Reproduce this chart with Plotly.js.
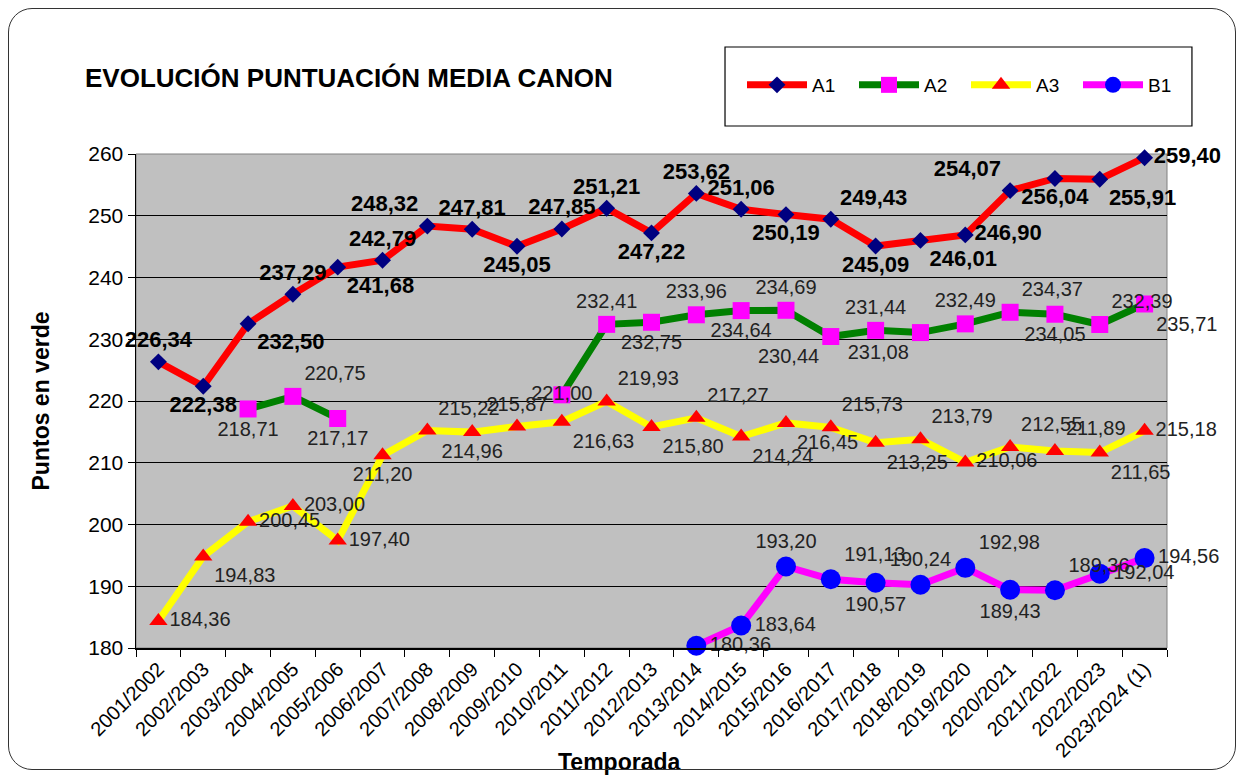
<!DOCTYPE html>
<html>
<head>
<meta charset="utf-8">
<script src="https://cdn.plot.ly/plotly-3.0.1.min.js"></script>
<style>
  html, body { margin:0; padding:0; background:#fff; }
  #chart { width:1242px; height:776px; position:relative; }
  #frame { position:absolute; left:8px; top:8px; width:1226px; height:760px;
           border:1.5px solid #333; border-radius:24px; pointer-events:none; }
</style>
</head>
<body>
<div id="chart"></div>
<div id="frame"></div>
<script>
const seasons = ["2001/2002","2002/2003","2003/2004","2004/2005","2005/2006","2006/2007","2007/2008","2008/2009","2009/2010","2010/2011","2011/2012","2012/2013","2013/2014","2014/2015","2015/2016","2016/2017","2017/2018","2018/2019","2019/2020","2020/2021","2021/2022","2022/2023","2023/2024 (1)"];

const a1 = [226.34,222.38,232.50,237.29,241.68,242.79,248.32,247.81,245.05,247.85,251.21,247.22,253.62,251.06,250.19,249.43,245.09,246.01,246.90,254.07,256.04,255.91,259.40];
const a2 = [null,null,218.71,220.75,217.17,null,null,null,null,221.00,232.41,232.75,233.96,234.64,234.69,230.44,231.44,231.08,232.49,234.37,234.05,232.39,235.71];
const a3 = [184.36,194.83,200.45,203.00,197.40,211.20,215.22,214.96,215.87,216.63,219.93,215.80,217.27,214.24,216.45,215.73,213.25,213.79,210.06,212.55,211.89,211.65,215.18];
const b1 = [null,null,null,null,null,null,null,null,null,null,null,null,180.36,183.64,193.20,191.13,190.57,190.24,192.98,189.43,189.36,192.04,194.56];

const yTicks = [180,190,200,210,220,230,240,250,260];

// label placement (style only)
const posA1 = ["top center","bottom center","bottom right","top center","bottom right","top center","top left","top center","bottom center","top center","top center","bottom center","top center","top center","bottom center","top right","bottom center","bottom right","middle right","top left","bottom center","bottom right","middle right"];
const posA2 = ["top center","top center","bottom center","top right","bottom center","top center","top center","top center","top center","middle center","top center","bottom center","top center","bottom center","top center","bottom left","top center","bottom left","top center","top right","bottom center","top right","bottom right"];
const posA3 = ["middle right","bottom right","middle right","middle right","middle right","bottom center","top right","bottom center","top center","bottom right","top right","bottom right","top right","bottom right","bottom right","top right","bottom right","top right","middle right","top right","top right","bottom right","middle right"];
const posB1 = ["top center","top center","top center","top center","top center","top center","top center","top center","top center","top center","top center","top center","middle right","middle right","top center","top right","bottom center","top center","top right","bottom center","top right","middle right","middle right"];

const fmt = v => (v === null ? "" : v.toFixed(2).replace(".", ","));

const FONT = "Liberation Sans, Arial, sans-serif";

function series(name, vals, pos, lineColor, mColor, symbol, size, bold) {
  return {
    type: "scatter", mode: "lines+markers+text", name: name,
    x: seasons, y: vals, text: vals.map(fmt), textposition: pos,
    connectgaps: false, cliponaxis: false,
    line: { color: lineColor, width: 7 },
    marker: { color: mColor, symbol: symbol, size: size, line: { width: 0 } },
    textfont: { family: FONT, size: bold ? 22 : 20, color: bold ? "#000" : "#222", weight: bold ? "bold" : "normal" },
    hoverinfo: "x+y"
  };
}

const data = [
  series("A1", a1, posA1, "#ff0000", "#000080", "diamond", 13, true),
  series("A2", a2, posA2, "#008000", "#ff00ff", "square", 17, false),
  series("A3", a3, posA3, "#ffff00", "#ff0000", "triangle-up", 16, false),
  series("B1", b1, posB1, "#ff00ff", "#0000ff", "circle", 20, false)
];

const layout = {
  width: 1242, height: 776,
  margin: { l: 136, r: 75, t: 154, b: 128, autoexpand: false },
  paper_bgcolor: "#ffffff",
  plot_bgcolor: "#c0c0c0",
  font: { family: FONT, color: "#000" },
  title: {
    text: "<b>EVOLUCIÓN PUNTUACIÓN MEDIA CANON</b>",
    x: 85/1242, xref: "container", xanchor: "left",
    y: 1 - 78/776, yref: "container", yanchor: "middle",
    font: { family: FONT, size: 26, color: "#000" }
  },
  showlegend: true,
  legend: {
    orientation: "h", xref: "container", yref: "container",
    x: 742/1242, xanchor: "left", y: 1 - 85/776, yanchor: "middle",
    bgcolor: "rgba(0,0,0,0)", borderwidth: 0,
    font: { family: FONT, size: 19, color: "#000" },
    itemwidth: 60, entrywidth: 37, entrywidthmode: "pixels",
    traceorder: "normal"
  },
  xaxis: {
    type: "category", tickangle: -45, range: [-0.5, 22.5], autorange: false,
    tickson: "boundaries", ticks: "outside", ticklen: 7, tickcolor: "#000",
    showline: true, linecolor: "#000", linewidth: 1.5,
    showgrid: false, zeroline: false,
    tickfont: { family: FONT, size: 20, color: "#000" }
  },
  yaxis: {
    range: [180, 260], tickvals: yTicks, ticktext: yTicks.map(String),
    ticks: "outside", ticklen: 7, tickcolor: "#000",
    showline: true, linecolor: "#000", linewidth: 1.5,
    showgrid: true, gridcolor: "#000", gridwidth: 1, zeroline: false,
    tickfont: { family: FONT, size: 21, color: "#000" },
    title: { text: "<b>Puntos en verde</b>", standoff: 32, font: { family: FONT, size: 23, color: "#000" } }
  },
  shapes: [
    { type: "rect", xref: "paper", yref: "paper", x0: 0, x1: 1, y0: 0, y1: 1,
      line: { color: "#808080", width: 1 }, layer: "below" },
    { type: "rect", xref: "paper", yref: "paper", x0: 0.5713, x1: 1.0242, y0: 1.0567, y1: 1.2166,
      line: { color: "#000", width: 1.2 }, fillcolor: "rgba(0,0,0,0)" }
  ],
  annotations: [
    { text: "<b>Temporada</b>", xref: "paper", yref: "paper", x: 0.4685, y: -0.2308,
      showarrow: false, xanchor: "center", yanchor: "middle",
      font: { family: FONT, size: 23, color: "#000" } }
  ]
};

Plotly.newPlot("chart", data, layout, { displayModeBar: false, staticPlot: true });
</script>
</body>
</html>
